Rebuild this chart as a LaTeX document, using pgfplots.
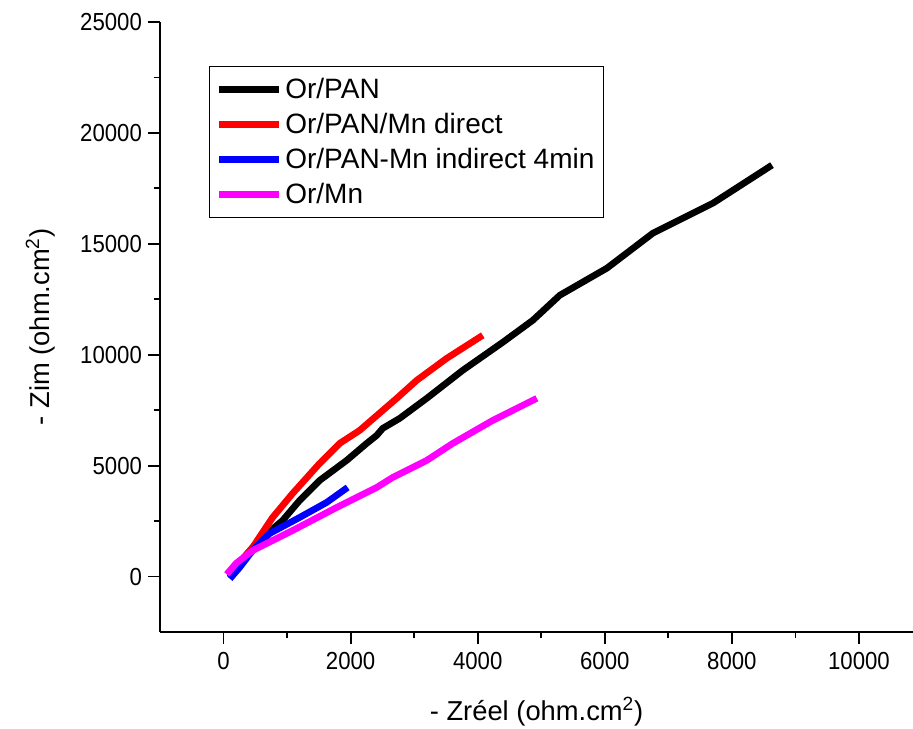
\documentclass[border=0pt]{standalone}
\usepackage{fontspec}
\setmainfont{Liberation Sans}
\newfontfamily\tickfont[FakeStretch=0.9]{Liberation Sans}
\usepackage{pgfplots}
\pgfplotsset{compat=1.18}
\usetikzlibrary{calc}
\definecolor{mag}{RGB}{255,0,255}
\definecolor{pred}{RGB}{255,0,0}
\definecolor{pblue}{RGB}{0,0,255}
\begin{document}
\begin{tikzpicture}
\begin{axis}[
  name=ax,
  scale only axis,
  width=564.75pt, height=457.5pt,
  xmin=-1000, xmax=10850,
  ymin=-2500, ymax=25000,
  axis x line=bottom, axis y line=left,
  axis line style={-, line width=1.4pt},
  every tick/.style={black, line width=1.4pt},
  tick align=outside,
  major tick length=9pt, minor tick length=4.5pt,
  xtick={0,2000,4000,6000,8000,10000},
  ytick={0,5000,10000,15000,20000,25000},
  minor x tick num=1, minor y tick num=1,
  scaled ticks=false,
  /pgf/number format/set thousands separator={},
  /pgf/number format/assume math mode=true,
  tick label style={font=\tickfont\fontsize{18.5}{20}\selectfont},
  xticklabel style={yshift=-3pt},
  yticklabel style={xshift=-1pt},
  xlabel={- Zréel (ohm.cm\textsuperscript{2})},
  ylabel={- Zim (ohm.cm\textsuperscript{2})},
  label style={font=\fontsize{20.5}{24}\selectfont},
  xlabel style={at={(axis description cs:0.5,-0.131)}, anchor=center},
  ylabel style={at={(axis description cs:-0.159,0.5)}, anchor=center},
  clip=false,
  legend style={at={(axis description cs:0.065,0.928)}, anchor=north west,
    draw=black, line width=0.6pt, font=\fontsize{21}{25}\selectfont,
    inner xsep=5pt, inner ysep=7pt, row sep=5.5pt},
  legend cell align=left,
  legend image code/.code={\draw[#1, line width=5pt] (4pt,0pt) -- (49pt,0pt);},
  every axis plot/.append style={line width=5pt, line join=round},
]
\addplot[black] coordinates {
(100,-50) (250,600) (457,1309) (614,1760) (929,2527) (1197,3430) (1512,4332)
(1937,5235) (2252,6002) (2410,6363) (2504,6679) (2772,7131) (3197,8033)
(3764,9297) (4394,10560) (4867,11553) (5292,12682) (6032,13900) (6757,15480)
(7702,16833) (8631,18548)};
\addlegendentry{Or/PAN}
\addplot[pred] coordinates {
(94,135) (457,1309) (772,2663) (1087,3746) (1512,5100) (1827,6002)
(2142,6589) (2725,8033) (3040,8845) (3512,9838) (4079,10876)};
\addlegendentry{Or/PAN/Mn direct}
\addplot[pblue] coordinates {
(100,-100) (250,400) (457,1173) (725,1940) (1197,2663) (1622,3340) (1953,4017)};
\addlegendentry{Or/PAN-Mn indirect 4min}
\addplot[mag] coordinates {
(50,100) (200,600) (457,1173) (1087,2076) (1780,3114) (2410,4017) (2662,4468)
(3197,5235) (3607,6002) (4237,7040) (4930,8033)};
\addlegendentry{Or/Mn}
\end{axis}
\pgfresetboundingbox
\useasboundingbox ($(ax.south west)+(-120pt,-72pt)$) rectangle ($(ax.north east)+(0pt,16.5pt)$);
\end{tikzpicture}
\end{document}
